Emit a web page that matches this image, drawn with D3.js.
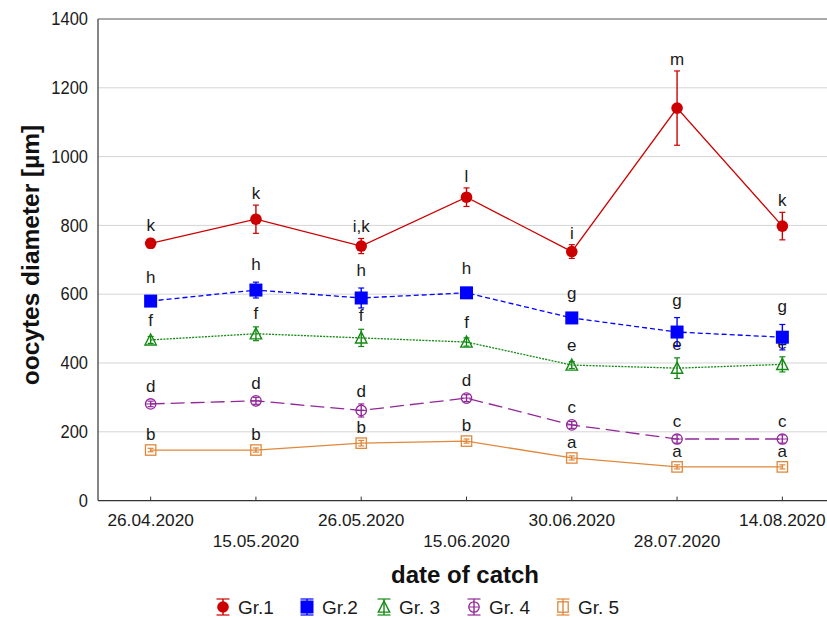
<!DOCTYPE html>
<html>
<head>
<meta charset="utf-8">
<script src="https://cdn.jsdelivr.net/npm/d3@7"></script>
<style>
  html, body { margin: 0; padding: 0; background: #fff; }
  svg { display: block; font-family: "Liberation Sans", Arial, sans-serif; }
</style>
</head>
<body>
<svg id="chart" width="827" height="617"></svg>
<script>
// Catch dates (x categories)
const dates = ["26.04.2020", "15.05.2020", "26.05.2020", "15.06.2020", "30.06.2020", "28.07.2020", "14.08.2020"];

// Mean oocyte diameter [µm] per group and date
const gr1 = [748, 818, 740, 882, 724, 1141, 798];
const gr2 = [580, 612, 589, 604, 531, 490, 475];
const gr3 = [467, 485, 473, 461, 394, 385, 396];
const gr4 = [281, 290, 262, 298, 220, 179, 179];
const gr5 = [147, 147, 167, 173, 124, 98, 98];

// Error bar half-widths
const err1 = [14, 41, 22, 27, 20, 108, 40];
const err2 = [10, 23, 29, 10, 10, 42, 37];
const err3 = [10, 20, 25, 12, 10, 30, 22];
const err4 = [8, 10, 19, 10, 10, 12, 12];
const err5 = [5, 6, 8, 6, 6, 6, 6];

// Significance letters
const let1 = ["k", "k", "i,k", "l", "i", "m", "k"];
const let2 = ["h", "h", "h", "h", "g", "g", "g"];
const let3 = ["f", "f", "f", "f", "e", "e", "e"];
const let4 = ["d", "d", "d", "d", "c", "c", "c"];
const let5 = ["b", "b", "b", "b", "a", "a", "a"];

const groupNames = ["Gr.1", "Gr.2", "Gr. 3", "Gr. 4", "Gr. 5"];
const yTicks = [0, 200, 400, 600, 800, 1000, 1200, 1400];

const groups = [
  { name: groupNames[0], values: gr1, err: err1, letters: let1, color: "#cc0000", dash: null, marker: "circle", size: 5.8, gap: 6 },
  { name: groupNames[1], values: gr2, err: err2, letters: let2, color: "#0000ff", dash: "5,3", marker: "square", size: 6.5, gap: 12 },
  { name: groupNames[2], values: gr3, err: err3, letters: let3, color: "#138a13", dash: "2,1.2", marker: "triangle", size: 6, gap: 8 },
  { name: groupNames[3], values: gr4, err: err4, letters: let4, color: "#93279a", dash: "14,6", marker: "crossCircle", size: 5.2, gap: 7 },
  { name: groupNames[4], values: gr5, err: err5, letters: let5, color: "#e0883c", dash: null, marker: "openSquare", size: 5.2, gap: 5 }
];

const svg = d3.select("#chart");
const plotLeft = 98, plotTop = 19, plotBottom = 500.6, plotRight = 835;

const x = d3.scalePoint().domain(dates).range([plotLeft, plotRight]).padding(0.5);
const y = d3.scaleLinear().domain([0, 1400]).range([plotBottom, plotTop]);

// Grid lines
svg.append("g").selectAll("line")
  .data(yTicks.filter(t => t > 0 && t < 1400))
  .join("line")
  .attr("x1", plotLeft).attr("x2", 827)
  .attr("y1", d => y(d)).attr("y2", d => y(d))
  .attr("stroke", "#d4d4d4").attr("stroke-width", 1);

// Frame: left, bottom and top lines
svg.append("line").attr("x1", plotLeft).attr("x2", plotLeft).attr("y1", y(1400)).attr("y2", y(0))
  .attr("stroke", "#333").attr("stroke-width", 1.2);
svg.append("line").attr("x1", plotLeft).attr("x2", 827).attr("y1", y(0)).attr("y2", y(0))
  .attr("stroke", "#333").attr("stroke-width", 1.2);
svg.append("line").attr("x1", plotLeft).attr("x2", 827).attr("y1", y(1400)).attr("y2", y(1400))
  .attr("stroke", "#555").attr("stroke-width", 1);

// Y tick labels (slightly tall glyphs)
svg.append("g").selectAll("text")
  .data(yTicks)
  .join("text")
  .attr("transform", d => `translate(88,${y(d)}) scale(1,1.12)`)
  .attr("y", 5.5)
  .attr("text-anchor", "end")
  .attr("font-size", 16.5).attr("fill", "#1a1a1a")
  .text(d => d);

// X ticks (inward) and staggered labels
svg.append("g").selectAll("line")
  .data(dates)
  .join("line")
  .attr("x1", d => x(d)).attr("x2", d => x(d))
  .attr("y1", y(0)).attr("y2", y(0) - 4)
  .attr("stroke", "#333");
svg.append("g").selectAll("text")
  .data(dates)
  .join("text")
  .attr("x", d => x(d))
  .attr("y", (d, i) => i % 2 === 0 ? 526 : 547)
  .attr("text-anchor", "middle")
  .attr("font-size", 17.3).attr("fill", "#1a1a1a")
  .text(d => d);

// Axis titles
svg.append("text")
  .attr("transform", "translate(39,255) rotate(-90)")
  .attr("text-anchor", "middle")
  .attr("font-size", 24.5).attr("font-weight", "bold").attr("fill", "#111")
  .text("oocytes diameter [µm]");
svg.append("text")
  .attr("x", 465).attr("y", 583)
  .attr("text-anchor", "middle")
  .attr("font-size", 24).attr("font-weight", "bold").attr("fill", "#111")
  .text("date of catch");

// Marker drawing
function drawMarker(g, type, color, cx, cy, s) {
  if (type === "circle") {
    g.append("circle").attr("cx", cx).attr("cy", cy).attr("r", s).attr("fill", color);
  } else if (type === "square") {
    g.append("rect").attr("x", cx - s).attr("y", cy - s).attr("width", 2 * s).attr("height", 2 * s).attr("fill", color);
  } else if (type === "triangle") {
    g.append("path")
      .attr("d", `M${cx},${cy - s}L${cx + s * 0.95},${cy + s * 0.85}L${cx - s * 0.95},${cy + s * 0.85}Z`)
      .attr("fill", "none").attr("stroke", color).attr("stroke-width", 1.4);
  } else if (type === "crossCircle") {
    g.append("circle").attr("cx", cx).attr("cy", cy).attr("r", s)
      .attr("fill", "none").attr("stroke", color).attr("stroke-width", 1.3);
    g.append("line").attr("x1", cx - s).attr("x2", cx + s).attr("y1", cy).attr("y2", cy)
      .attr("stroke", color).attr("stroke-width", 1);
  } else if (type === "openSquare") {
    g.append("rect").attr("x", cx - s).attr("y", cy - s).attr("width", 2 * s).attr("height", 2 * s)
      .attr("fill", "none").attr("stroke", color).attr("stroke-width", 1.3);
  }
}

function drawErrorBar(g, color, cx, y1, y2, cap) {
  g.append("line").attr("x1", cx).attr("x2", cx).attr("y1", y1).attr("y2", y2)
    .attr("stroke", color).attr("stroke-width", 1.4);
  g.append("line").attr("x1", cx - cap).attr("x2", cx + cap).attr("y1", y1).attr("y2", y1)
    .attr("stroke", color).attr("stroke-width", 1.2);
  g.append("line").attr("x1", cx - cap).attr("x2", cx + cap).attr("y1", y2).attr("y2", y2)
    .attr("stroke", color).attr("stroke-width", 1.2);
}

const line = d3.line().x(d => x(d.date)).y(d => y(d.v));

// Draw bottom group first so upper groups sit on top
groups.slice().reverse().forEach(gr => {
  const g = svg.append("g");
  const pts = gr.values.map((v, i) => ({ date: dates[i], v, e: gr.err[i], lab: gr.letters[i] }));
  g.append("path").datum(pts)
    .attr("d", line)
    .attr("fill", "none").attr("stroke", gr.color)
    .attr("stroke-width", 1.3)
    .attr("stroke-dasharray", gr.dash);
  pts.forEach(p => {
    drawErrorBar(g, gr.color, x(p.date), y(p.v + p.e), y(p.v - p.e), 3);
    drawMarker(g, gr.marker, gr.color, x(p.date), y(p.v), gr.size);
  });
  g.selectAll("text.lab").data(pts).join("text")
    .attr("class", "lab")
    .attr("x", d => x(d.date))
    .attr("y", d => Math.min(y(d.v + d.e), y(d.v) - gr.size) - gr.gap)
    .attr("text-anchor", "middle")
    .attr("font-size", 17).attr("fill", "#1a1a1a")
    .text(d => d.lab);
});

// Legend
const legendX = [223, 307, 384, 474, 563];
const legY = 607;
groups.forEach((gr, i) => {
  const g = svg.append("g");
  const cx = legendX[i];
  drawErrorBar(g, gr.color, cx, legY - 8, legY + 8, 6.5);
  drawMarker(g, gr.marker, gr.color, cx, legY, gr.size);
  g.append("text")
    .attr("x", cx + 15).attr("y", legY + 6.5)
    .attr("font-size", 19).attr("fill", "#1a1a1a")
    .text(gr.name);
});
</script>
</body>
</html>
